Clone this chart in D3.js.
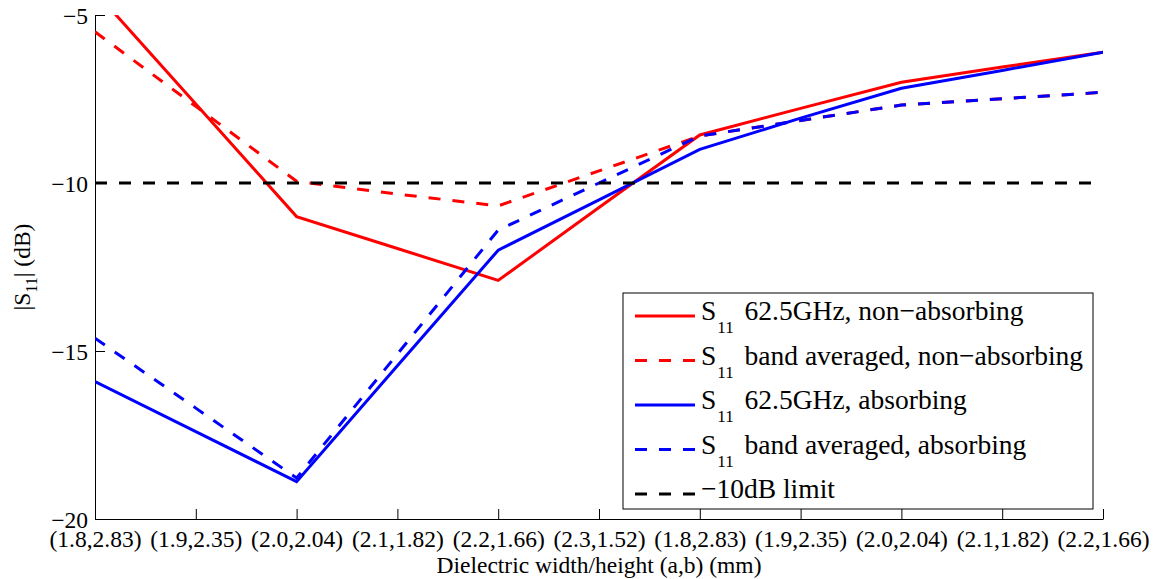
<!DOCTYPE html>
<html>
<head>
<meta charset="utf-8">
<script src="https://cdn.jsdelivr.net/npm/d3@7"></script>
<style>
  html, body { margin: 0; padding: 0; background: #fff; }
  svg { display: block; font-family: "Liberation Serif", "Times New Roman", serif; }
</style>
</head>
<body>
<svg id="chart" width="1157" height="579"></svg>
<script>
// Dielectric (a,b) sizes along the x axis
const categories = ["(1.8,2.83)", "(1.9,2.35)", "(2.0,2.04)", "(2.1,1.82)", "(2.2,1.66)", "(2.3,1.52)",
                    "(1.8,2.83)", "(1.9,2.35)", "(2.0,2.04)", "(2.1,1.82)", "(2.2,1.66)"];

// |S11| in dB
const s11NonAbs625 = [-4.3, -7.65, -11.0, -11.95, -12.9, -10.73, -8.57, -7.78, -7.0, -6.55, -6.11];
const s11NonAbsAvg = [-5.5, -7.72, -9.95, -10.33, -10.68, -9.64, -8.6, -8.14, -7.68, -7.49, -7.3];
const s11Abs625    = [-15.91, -17.4, -18.89, -15.44, -12.0, -10.5, -9.0, -8.07, -7.18, -6.65, -6.11];
const s11AbsAvg    = [-14.62, -16.7, -18.78, -15.09, -11.4, -10.0, -8.6, -8.14, -7.68, -7.49, -7.3];
const limitDb = -10;

const yTicks = [-20, -15, -10, -5];

const seriesList = [
  { name: "62.5GHz, non\u2212absorbing",         values: s11NonAbs625, color: "#ff0000", dash: null },
  { name: "band averaged, non\u2212absorbing",   values: s11NonAbsAvg, color: "#ff0000", dash: "12,12" },
  { name: "62.5GHz, absorbing",                  values: s11Abs625,    color: "#0000ff", dash: null },
  { name: "band averaged, absorbing",            values: s11AbsAvg,    color: "#0000ff", dash: "12,12" }
];

const FONT = "Liberation Serif, Times New Roman, serif";
const svg = d3.select("#chart");
const margin = { left: 95, top: 15, right: 54, bottom: 60 };
const W = 1157, H = 579;
const x0 = margin.left, x1 = W - margin.right;
const y0 = margin.top, y1 = H - margin.bottom;

const x = d3.scaleLinear().domain([0, categories.length - 1]).range([x0, x1]);
const y = d3.scaleLinear().domain([-20, -5]).range([y1, y0]);

svg.append("defs").append("clipPath").attr("id", "plotClip")
  .append("rect").attr("x", x0).attr("y", y0).attr("width", x1 - x0).attr("height", y1 - y0);

// Axes: left and bottom only, ticks pointing inward
const xAxis = d3.axisBottom(x)
  .tickValues(d3.range(categories.length))
  .tickFormat(i => categories[i])
  .tickSizeInner(-10).tickSizeOuter(0).tickPadding(11);
const gx = svg.append("g").attr("transform", `translate(0,${y1})`).call(xAxis);

const yAxis = d3.axisLeft(y)
  .tickValues(yTicks)
  .tickFormat(d => String(d).replace("-", "\u2212"))
  .tickSizeInner(-10).tickSizeOuter(0).tickPadding(7);
const gy = svg.append("g").attr("transform", `translate(${x0},0)`).call(yAxis);

[gx, gy].forEach(g => {
  g.attr("font-family", FONT);
  g.select(".domain").attr("stroke", "#000").attr("stroke-width", 1);
  g.selectAll(".tick line").attr("stroke", "#000").attr("stroke-width", 1);
  g.selectAll(".tick text").attr("fill", "#000").attr("font-size", 23.5);
});
gy.selectAll(".tick text").attr("dy", "0.35em");

// Axis titles
svg.append("text")
  .attr("x", (x0 + x1) / 2).attr("y", 573)
  .attr("text-anchor", "middle").attr("font-size", 23.5)
  .text("Dielectric width/height (a,b) (mm)");

const yl = svg.append("text")
  .attr("transform", `translate(30,${(y0 + y1) / 2}) rotate(-90)`)
  .attr("text-anchor", "middle").attr("font-size", 23.5);
yl.append("tspan").text("|S");
yl.append("tspan").attr("font-size", 16).attr("dy", 7).text("11");
yl.append("tspan").attr("dy", -7).text("| (dB)");

// Data lines
const plot = svg.append("g").attr("clip-path", "url(#plotClip)");
const line = d3.line().x((d, i) => x(i)).y(d => y(d));

seriesList.forEach(s => {
  plot.append("path").datum(s.values)
    .attr("d", line)
    .attr("fill", "none")
    .attr("stroke", s.color)
    .attr("stroke-width", 3)
    .attr("stroke-linejoin", "miter")
    .attr("stroke-dasharray", s.dash);
});

// -10 dB limit
plot.append("line")
  .attr("x1", x(0)).attr("x2", x(categories.length - 1))
  .attr("y1", y(limitDb)).attr("y2", y(limitDb))
  .attr("stroke", "#000").attr("stroke-width", 3).attr("stroke-dasharray", "12,12");

// Legend
const legendItems = seriesList.map(s => ({ sub: true, label: s.name, color: s.color, dash: s.dash }))
  .concat([{ sub: false, label: "\u221210dB limit", color: "#000", dash: "12,12" }]);

const lg = svg.append("g");
const lx = 623, ly = 293, lw = 470, lh = 216;
lg.append("rect").attr("x", lx).attr("y", ly).attr("width", lw).attr("height", lh)
  .attr("fill", "#fff").attr("stroke", "#000").attr("stroke-width", 1);

legendItems.forEach((it, i) => {
  const by = 320 + i * 44.5;
  lg.append("line")
    .attr("x1", 635).attr("x2", 695)
    .attr("y1", by - 4).attr("y2", by - 4)
    .attr("stroke", it.color).attr("stroke-width", 3)
    .attr("stroke-dasharray", it.dash);
  const t = lg.append("text").attr("x", 701).attr("y", by).attr("font-size", 27.5);
  if (it.sub) {
    t.append("tspan").text("S");
    t.append("tspan").attr("font-size", 17).attr("dx", 1).attr("dy", 13).text("11");
    t.append("tspan").attr("dx", 4).attr("dy", -13).text("\u00a0" + it.label);
  } else {
    t.text(it.label);
  }
});
</script>
</body>
</html>
